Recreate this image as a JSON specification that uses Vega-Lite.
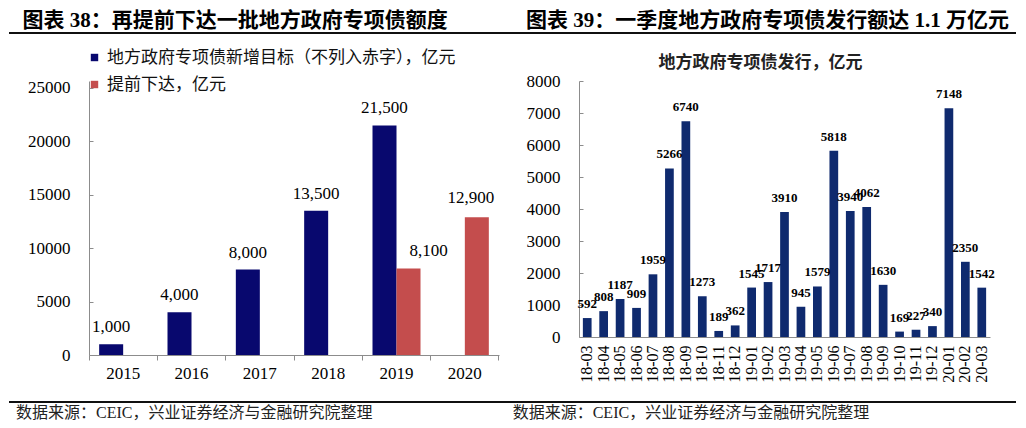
{
  "$schema": "https://vega.github.io/schema/vega-lite/v6.json",
  "background": "white",
  "padding": {"left": 8, "top": 6, "right": 0, "bottom": 0},
  "config": {
    "view": {"stroke": null},
    "font": "Liberation Serif, Noto Sans CJK SC"
  },
  "spacing": 15,
  "resolve": {"scale": {"color": "independent"}, "legend": {"color": "independent"}},
  "vconcat": [
    {
      "width": 927,
      "height": 27,
      "data": {"values": [
        {"panel": "L", "title": "图表 38：再提前下达一批地方政府专项债额度"},
        {"panel": "R", "title": "图表 39：一季度地方政府专项债发行额达 1.1 万亿元"}
      ]},
      "resolve": {"scale": {"x": "independent"}},
      "layer": [
        {
          "mark": {"type": "text", "align": "left", "baseline": "middle", "dx": 13.5, "dy": 1, "fontSize": 21, "fontWeight": "bold", "font": "Liberation Serif, Noto Sans CJK SC", "color": "#000000"},
          "encoding": {
            "x": {"field": "panel", "type": "nominal", "bandPosition": 0, "scale": {"type": "band", "range": [-80, 927], "paddingInner": 0, "paddingOuter": 0}, "axis": null},
            "text": {"field": "title"}
          }
        },
        {
          "mark": {"type": "rule", "color": "#000000", "strokeWidth": 1.5},
          "encoding": {
            "x": {"datum": 0, "type": "quantitative", "scale": {"domain": [0, 1], "range": [-80, 927]}, "axis": null},
            "x2": {"datum": 1},
            "y": {"datum": 0, "type": "quantitative", "scale": {"domain": [0, 1]}, "axis": null}
          }
        }
      ]
    },
    {
      "spacing": 27,
      "resolve": {"scale": {"color": "independent"}, "legend": {"color": "independent"}},
      "hconcat": [
        {
          "width": 410,
          "height": 274,
          "data": {"values": [
            {"year": "2015", "series": "地方政府专项债新增目标（不列入赤字），亿元", "value": 1000},
            {"year": "2016", "series": "地方政府专项债新增目标（不列入赤字），亿元", "value": 4000},
            {"year": "2017", "series": "地方政府专项债新增目标（不列入赤字），亿元", "value": 8000},
            {"year": "2018", "series": "地方政府专项债新增目标（不列入赤字），亿元", "value": 13500},
            {"year": "2019", "series": "地方政府专项债新增目标（不列入赤字），亿元", "value": 21500},
            {"year": "2019", "series": "提前下达，亿元", "value": 8100},
            {"year": "2020", "series": "提前下达，亿元", "value": 12900}
          ]},
          "encoding": {
            "x": {
              "field": "year", "type": "nominal",
              "scale": {"type": "band", "paddingInner": 0, "paddingOuter": 0},
              "axis": {"title": null, "labelAngle": 0, "bandPosition": 1, "tickExtra": true, "tickSize": 5, "tickColor": "#8c8c8c", "domainColor": "#8c8c8c", "labelFontSize": 17, "labelPadding": 5, "labelColor": "#000000", "labelFont": "Liberation Serif"}
            },
            "xOffset": {"field": "series", "type": "nominal", "scale": {"domain": ["地方政府专项债新增目标（不列入赤字），亿元", "提前下达，亿元"], "paddingInner": 0, "paddingOuter": 0.4236}},
            "y": {
              "field": "value", "type": "quantitative",
              "scale": {"domain": [0, 25655], "nice": false},
              "axis": {"title": null, "values": [0, 5000, 10000, 15000, 20000, 25000], "format": "d", "grid": false, "domainColor": "#8c8c8c", "tickColor": "#8c8c8c", "tickSize": -4, "labelPadding": 23, "labelFontSize": 17, "labelColor": "#000000", "labelFont": "Liberation Serif", "minExtent": 80}
            }
          },
          "layer": [
            {
              "mark": {"type": "bar"},
              "encoding": {
                "color": {
                  "field": "series", "type": "nominal",
                  "scale": {"domain": ["地方政府专项债新增目标（不列入赤字），亿元", "提前下达，亿元"], "range": ["#08086e", "#c44d4d"]},
                  "legend": {"title": null, "orient": "none", "legendX": -3, "legendY": -32, "symbolType": "square", "symbolSize": 55, "labelFontSize": 17, "labelFont": "Noto Sans CJK SC", "labelColor": "#111111", "rowPadding": 9, "padding": 0, "labelLimit": 600, "labelOffset": 4}
                }
              }
            },
            {
              "transform": [{"filter": "datum.series === '地方政府专项债新增目标（不列入赤字），亿元'"}],
              "mark": {"type": "text", "baseline": "middle", "dy": -17, "fontSize": 17, "font": "Liberation Serif", "color": "#000000"},
              "encoding": {"text": {"field": "value", "type": "quantitative", "format": ","}}
            },
            {
              "transform": [{"filter": "datum.series === '提前下达，亿元' && datum.year === '2019'"}],
              "mark": {"type": "text", "baseline": "middle", "dy": -17, "dx": 20, "fontSize": 17, "font": "Liberation Serif", "color": "#000000"},
              "encoding": {"text": {"field": "value", "type": "quantitative", "format": ","}}
            },
            {
              "transform": [{"filter": "datum.series === '提前下达，亿元' && datum.year === '2020'"}],
              "mark": {"type": "text", "baseline": "middle", "dy": -19, "dx": -6, "fontSize": 17, "font": "Liberation Serif", "color": "#000000"},
              "encoding": {"text": {"field": "value", "type": "quantitative", "format": ","}}
            }
          ]
        },
        {
          "width": 411,
          "height": 256,
          "title": {"text": "地方政府专项债发行，亿元", "anchor": "middle", "frame": "bounds", "fontSize": 17, "fontWeight": "bold", "font": "Noto Sans CJK SC", "color": "#222222", "offset": 0},
          "data": {"values": [
            {"month": "18-03", "value": 592},
            {"month": "18-04", "value": 808},
            {"month": "18-05", "value": 1187},
            {"month": "18-06", "value": 909},
            {"month": "18-07", "value": 1959},
            {"month": "18-08", "value": 5266},
            {"month": "18-09", "value": 6740},
            {"month": "18-10", "value": 1273},
            {"month": "18-11", "value": 189},
            {"month": "18-12", "value": 362},
            {"month": "19-01", "value": 1545},
            {"month": "19-02", "value": 1717},
            {"month": "19-03", "value": 3910},
            {"month": "19-04", "value": 945},
            {"month": "19-05", "value": 1579},
            {"month": "19-06", "value": 5818},
            {"month": "19-07", "value": 3940},
            {"month": "19-08", "value": 4062},
            {"month": "19-09", "value": 1630},
            {"month": "19-10", "value": 169},
            {"month": "19-11", "value": 227},
            {"month": "19-12", "value": 340},
            {"month": "20-01", "value": 7148},
            {"month": "20-02", "value": 2350},
            {"month": "20-03", "value": 1542}
          ]},
          "encoding": {
            "x": {
              "field": "month", "type": "ordinal", "sort": null,
              "scale": {"paddingInner": 0.47, "paddingOuter": 0.235},
              "axis": {"title": null, "labelAngle": -90, "ticks": false, "domainColor": "#8c8c8c", "labelFontSize": 16, "labelPadding": 8, "labelColor": "#000000", "labelFont": "Liberation Serif"}
            },
            "y": {
              "field": "value", "type": "quantitative",
              "scale": {"domain": [0, 8000]},
              "axis": {"title": null, "values": [0, 1000, 2000, 3000, 4000, 5000, 6000, 7000, 8000], "format": "d", "grid": false, "domainColor": "#8c8c8c", "tickColor": "#8c8c8c", "tickSize": -4, "labelPadding": 23, "labelFontSize": 17, "labelColor": "#000000", "labelFont": "Liberation Serif"}
            }
          },
          "layer": [
            {"mark": {"type": "bar", "color": "#0f2a6e"}},
            {
              "mark": {"type": "text", "baseline": "middle", "dy": -14, "fontSize": 13, "fontWeight": "bold", "font": "Liberation Serif", "color": "#000000"},
              "encoding": {"text": {"field": "value", "type": "quantitative", "format": "d"}}
            }
          ]
        }
      ]
    },
    {
      "width": 927,
      "height": 30,
      "data": {"values": [
        {"panel": "L", "src": "数据来源：CEIC，兴业证券经济与金融研究院整理"},
        {"panel": "R", "src": "数据来源：CEIC，兴业证券经济与金融研究院整理"}
      ]},
      "resolve": {"scale": {"x": "independent"}},
      "layer": [
        {
          "mark": {"type": "text", "align": "left", "baseline": "middle", "fontSize": 16, "font": "Liberation Serif, Noto Sans CJK SC", "color": "#222222"},
          "encoding": {
            "x": {"field": "panel", "type": "nominal", "bandPosition": 0, "scale": {"type": "band", "range": [-73, 920.4], "paddingInner": 0, "paddingOuter": 0}, "axis": null},
            "text": {"field": "src"}
          }
        },
        {
          "mark": {"type": "rule", "color": "#000000", "strokeWidth": 1.5},
          "encoding": {
            "x": {"datum": 0, "type": "quantitative", "scale": {"domain": [0, 1], "range": [-80, 927]}, "axis": null},
            "x2": {"datum": 1},
            "y": {"datum": 0, "type": "quantitative", "scale": {"domain": [0, 1], "range": [4, 30]}, "axis": null}
          }
        }
      ]
    }
  ]
}
